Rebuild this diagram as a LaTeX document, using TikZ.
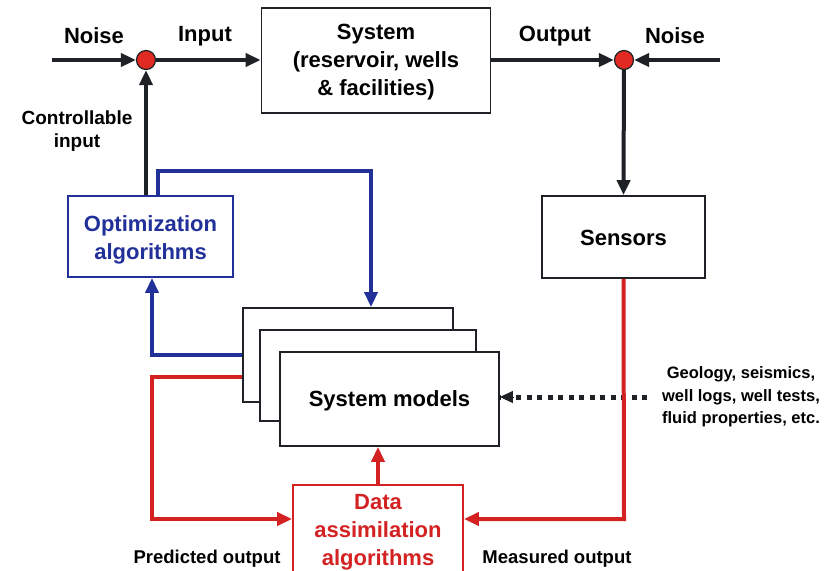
\documentclass[tikz,border=0pt]{standalone}
\usepackage{fontspec}
\setmainfont{Liberation Sans}
\usetikzlibrary{arrows.meta}
\definecolor{ink}{HTML}{1E2126}
\definecolor{myred}{HTML}{D42222}
\definecolor{myblue}{HTML}{22309A}
\definecolor{dotred}{HTML}{E02A22}
\tikzset{
  big/.style={font=\fontsize{22}{28}\selectfont\bfseries, align=center},
  mid/.style={font=\fontsize{19}{23}\selectfont\bfseries, align=center},
  small/.style={font=\fontsize{18.5}{22}\selectfont\bfseries, align=center},
  geo/.style={font=\fontsize{16.5}{22.5}\selectfont\bfseries, align=center},
  blk/.style={draw=ink, line width=1.8pt, fill=white, inner sep=0pt},
  tip/.style={-{Triangle[length=15pt,width=13pt]}},
  flow/.style={tip, line width=4pt, draw=ink},
  redflow/.style={tip, line width=4pt, draw=myred},
  blueflow/.style={tip, line width=4pt, draw=myblue},
  sumpt/.style={circle, draw=ink, line width=1.2pt, fill=dotred, minimum size=19pt, inner sep=0pt},
}
\begin{document}
\begin{tikzpicture}[x=1pt,y=-1pt]
\useasboundingbox (0,0) rectangle (826,570);
\clip (0,0) rectangle (826,570);
\fill[white] (0,0) rectangle (826,570);

% junctions
\node[sumpt] (s1) at (146,60) {};
\node[sumpt] (s2) at (624,60) {};
\coordinate (n1) at (52,60);
\coordinate (n2) at (720,60);

% boxes
\node[blk, minimum width=229pt, minimum height=105pt] (sys) at (376,60.5) {};
\node[big] (systxt) at (376,62) {System\\(reservoir, wells\\\& facilities)};
\node[blk, minimum width=163pt, minimum height=82pt] (sen) at (623.5,237) {};
\node[big] (sentxt) at (623.5,238) {Sensors};
\node[blk, draw=myblue, minimum width=165pt, minimum height=81pt] (opt) at (150.5,236.5) {};
\node[big, text=myblue] (opttxt) at (150.5,240) {Optimization\\algorithms};

% model stack
\node[blk, minimum width=210pt, minimum height=94pt] (m1) at (348,355) {};
\node[blk, minimum width=216pt, minimum height=91pt] (m2) at (368,375.5) {};
\node[blk, minimum width=219pt, minimum height=94pt] (m3) at (389.5,399) {};
\node[big] (m3txt) at (389.5,401) {System models};

\node[blk, draw=myred, minimum width=170pt, minimum height=90pt] (da) at (378,530) {};
\node[big, text=myred, anchor=north] (datxt) at (378,491) {Data\\assimilation\\algorithms};

% labels
\node[big] (lnoise1) at (94,36) {Noise};
\node[big] (linput) at (205,36) {Input};
\node[big] (loutput) at (555,36) {Output};
\node[big] (lnoise2) at (675,36) {Noise};
\node[mid] (lctrl) at (77,131) {Controllable\\input};
\node[small] (lpred) at (207,559) {Predicted output};
\node[small] (lmeas) at (557,559) {Measured output};
\node[geo] (lgeo) at (741,397) {Geology, seismics,\\well logs, well tests,\\fluid properties, etc.};

% black connectors
\draw[flow] (n1) -- (s1);
\draw[flow] (s1) -- (sys.west |- s1);
\draw[flow] (sys.east |- s2) -- (s2);
\draw[flow] (n2) -- (s2);
\draw[flow] (s2) -- (sen.north);
\draw[flow] (opt.north -| s1) -- (s1);

% dotted input
\coordinate (geoend) at (647,397);
\draw[ink, line width=5pt, dash pattern=on 5pt off 5.5pt] (geoend) -- (m3.east |- geoend) ++(14,0);
\draw[ink, -{Triangle[length=13pt,width=12pt]}, line width=1pt] (m3.east |- geoend) ++(13,0) -- (m3.east |- geoend);

% blue loop
\coordinate (b1) at (158,171);
\coordinate (b2) at (371,171);
\draw[blueflow] (opt.north -| b1) -- (b1) -- (b2) -- (m1.north -| b2);
\coordinate (b3) at (152,355);
\draw[blueflow] (m1.west |- b3) -- (b3) -- (opt.south -| b3);

% red loop
\coordinate (r1) at (152,377);
\coordinate (r2) at (152,519);
\draw[redflow] (m1.west |- r1) -- (r1) -- (r2) -- (da.west |- r2);
\coordinate (r3) at (624,519);
\draw[redflow] (sen.south) -- (r3) -- (da.east |- r3);
\draw[redflow] (da.north -| datxt) -- (m3.south -| datxt);
\end{tikzpicture}
\end{document}
